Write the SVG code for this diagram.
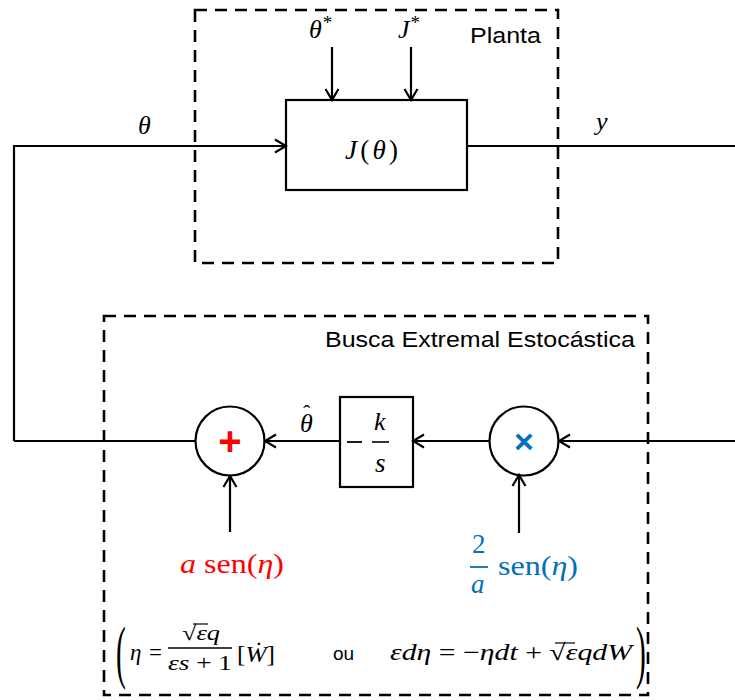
<svg xmlns="http://www.w3.org/2000/svg" width="735" height="700" viewBox="0 0 735 700">
<style>
.dash{fill:none;stroke:#000;stroke-width:2.6;stroke-dasharray:12 8}
.blk{fill:#fff;stroke:#000;stroke-width:2.2}
.ln{fill:none;stroke:#000;stroke-width:2.2}
.m{font-family:"Liberation Serif","DejaVu Serif",serif;font-style:italic;fill:#000}
.r{font-family:"Liberation Serif","DejaVu Serif",serif;font-style:normal;fill:#000}
.s{font-family:"Liberation Sans","Open Sans",sans-serif;fill:#000}
.red{fill:#FF0000}
.blue{fill:#0070C0}
</style>
<defs>
<marker id="arr" viewBox="-13 -8 15 16" refX="0" refY="0" markerWidth="15" markerHeight="16" markerUnits="userSpaceOnUse" orient="auto">
<path d="M-11,-6.5 L0,0 L-11,6.5" fill="none" stroke="#000" stroke-width="2.2"/>
</marker>
</defs>

<g id="planta-box">
<rect class="dash" x="195" y="10" width="363" height="253"/>
<text class="s" x="470" y="43" font-size="22" textLength="71" lengthAdjust="spacingAndGlyphs">Planta</text>
</g>

<g id="busca-box">
<rect class="dash" x="104" y="316" width="544" height="379"/>
<text class="s" x="325" y="347" font-size="22" textLength="310" lengthAdjust="spacingAndGlyphs">Busca Extremal Estocástica</text>
</g>

<g id="plant">
<rect class="blk" x="286" y="100" width="181" height="90"/>
<text class="m" x="345" y="159" font-size="27" textLength="53" lengthAdjust="spacing">J<tspan class="r">(</tspan>θ<tspan class="r">)</tspan></text>
</g>

<g id="gain">
<rect class="blk" x="340" y="397" width="73" height="90"/>
<line x1="347" y1="442" x2="362" y2="442" stroke="#000" stroke-width="1.8"/>
<text class="m" x="374" y="430" font-size="26">k</text>
<line x1="372" y1="442" x2="389" y2="442" stroke="#000" stroke-width="1.6"/>
<text class="m" x="375" y="472" font-size="27">s</text>
</g>

<g id="sum">
<circle class="blk" cx="230" cy="441" r="34.5"/>
<text class="s red" x="230" y="455" font-size="40" font-weight="bold" text-anchor="middle">+</text>
</g>

<g id="mult">
<circle class="blk" cx="524" cy="441" r="34.5"/>
<text class="s blue" x="524" y="453" font-size="34" font-weight="bold" text-anchor="middle">×</text>
</g>

<g id="connectors">
<path class="ln" d="M14,441 L14,146 L286,146" marker-end="url(#arr)"/>
<path class="ln" d="M467,146 L735,146"/>
<path class="ln" d="M735,441 L559,441" marker-end="url(#arr)"/>
<path class="ln" d="M490,441 L413,441" marker-end="url(#arr)"/>
<path class="ln" d="M340,441 L265,441" marker-end="url(#arr)"/>
<path class="ln" d="M195,441 L14,441"/>
<path class="ln" d="M230,532 L230,476" marker-end="url(#arr)"/>
<path class="ln" d="M519,533 L519,475" marker-end="url(#arr)"/>
<path class="ln" d="M332,47 L332,100" marker-end="url(#arr)"/>
<path class="ln" d="M411,47 L411,100" marker-end="url(#arr)"/>
</g>

<g id="labels">
<text class="m" x="309" y="38" font-size="26">θ<tspan class="r" font-size="19" dx="1" dy="-9">*</tspan></text>
<text class="m" x="398" y="38" font-size="26">J<tspan class="r" font-size="19" dx="1" dy="-9">*</tspan></text>
<text class="m" x="138" y="134" font-size="26">θ</text>
<text class="m" x="596" y="130" font-size="26">y</text>
<text class="m" x="300" y="432" font-size="26">θ<tspan class="r" font-size="22" x="303" y="420">ˆ</tspan></text>
<text class="m red" x="180" y="573" font-size="27" textLength="104" lengthAdjust="spacingAndGlyphs">a<tspan class="r red"> sen(</tspan>η<tspan class="r red">)</tspan></text>
<text class="r blue" x="472" y="553" font-size="27">2</text>
<line x1="470" y1="567" x2="488" y2="567" stroke="#0070C0" stroke-width="1.8"/>
<text class="m blue" x="471" y="593" font-size="27">a</text>
<text class="r blue" x="498" y="575" font-size="27" textLength="80" lengthAdjust="spacingAndGlyphs">sen(<tspan class="m blue">η</tspan>)</text>
</g>

<g id="formula">
<text class="r" transform="translate(116,675) scale(0.42,1)" font-size="70">(</text>
<text class="m" x="130" y="660" font-size="23">η</text>
<text class="r" x="149" y="660" font-size="23">=</text>
<text class="r" x="182" y="640" font-size="21" textLength="38" lengthAdjust="spacingAndGlyphs">√<tspan class="m">εq</tspan></text>
<line x1="193" y1="624" x2="208" y2="624" stroke="#000" stroke-width="1.2"/>
<line x1="168" y1="648" x2="232" y2="648" stroke="#000" stroke-width="1.5"/>
<text class="m" x="168" y="670" font-size="21" textLength="64" lengthAdjust="spacingAndGlyphs">εs <tspan class="r">+ 1</tspan></text>
<text class="r" x="237" y="662" font-size="23" textLength="38" lengthAdjust="spacingAndGlyphs">[<tspan class="m">Ẇ</tspan>]</text>
<text class="s" x="333" y="660" font-size="19">ou</text>
<text class="m" x="390" y="660" font-size="23" textLength="242" lengthAdjust="spacingAndGlyphs">εdη <tspan class="r">= −</tspan>ηdt <tspan class="r">+ √</tspan>εqdW</text>
<line x1="555" y1="643" x2="575" y2="643" stroke="#000" stroke-width="1.2"/>
<text class="r" transform="translate(636,675) scale(0.42,1)" font-size="70">)</text>
</g>
</svg>
